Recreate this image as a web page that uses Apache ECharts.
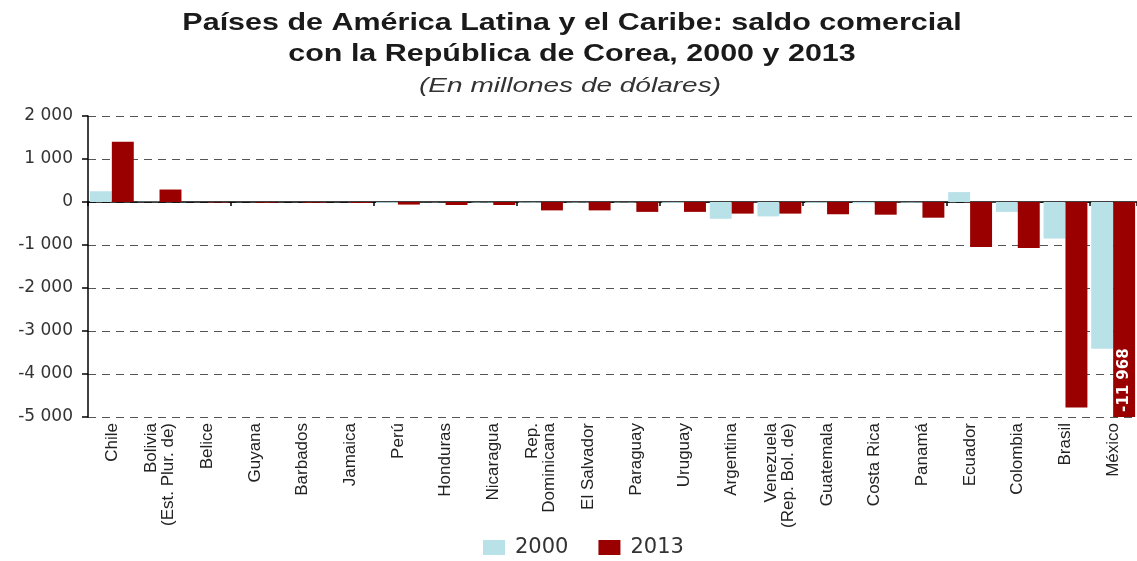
<!DOCTYPE html>
<html>
<head>
<meta charset="utf-8">
<script src="https://cdn.jsdelivr.net/npm/echarts@6/dist/echarts.min.js"></script>
<style>
html,body{margin:0;padding:0;background:#fff;}
#c{width:1137px;height:561px;}
</style>
</head>
<body>
<div id="c"></div>
<script>
var categories = ["Chile","Bolivia\n(Est. Plur. de)","Belice","Guyana","Barbados","Jamaica","Perú","Honduras","Nicaragua","Rep.\nDominicana","El Salvador","Paraguay","Uruguay","Argentina","Venezuela\n(Rep. Bol. de)","Guatemala","Costa Rica","Panamá","Ecuador","Colombia","Brasil","México"];
var v2000 = [250, 5, 0, 0, 0, 0, -20, -5, -10, -15, -10, -10, -20, -390, -335, -20, -30, -15, 230, -230, -850, -3410];
var v2013 = [1400, 290, -10, -15, -15, -20, -60, -70, -70, -195, -195, -230, -230, -270, -270, -285, -295, -365, -1045, -1070, -4780, -11968];
var yTicks = {min: -5000, max: 2000, interval: 1000};
var titleLines = ['Países de América Latina y el Caribe: saldo comercial', 'con la República de Corea, 2000 y 2013'];
var subtitle = '(En millones de dólares)';

function fmtThousands(v){
  var s = Math.abs(v).toString().replace(/\B(?=(\d{3})+(?!\d))/g, ' ');
  return (v < 0 ? '-' : '') + s;
}

var chart = echarts.init(document.getElementById('c'));
var font = 'Liberation Sans, Arial, sans-serif';
var wide = 'DejaVu Sans, sans-serif';
chart.setOption({
  animation: false,
  backgroundColor: '#fff',
  graphic: [
    {type: 'text', x: 572, y: 23, scaleX: 1.27,
     style: {text: titleLines[0], font: 'bold 24px Liberation Sans, Arial, sans-serif', fill: '#1a1a1a', textAlign: 'center', textVerticalAlign: 'middle'}},
    {type: 'text', x: 572, y: 54, scaleX: 1.27,
     style: {text: titleLines[1], font: 'bold 24px Liberation Sans, Arial, sans-serif', fill: '#1a1a1a', textAlign: 'center', textVerticalAlign: 'middle'}},
    {type: 'text', x: 570, y: 86, scaleX: 1.4,
     style: {text: subtitle, font: 'italic 20px Liberation Sans, Arial, sans-serif', fill: '#333', textAlign: 'center', textVerticalAlign: 'middle'}}
  ],
  legend: {
    top: 537, left: 483, padding: 0, itemWidth: 22, itemHeight: 15, itemGap: 30,
    icon: 'rect',
    textStyle: {fontFamily: wide, fontSize: 21, color: '#333', padding: [0, 0, 0, 5]},
    data: ['2000', '2013']
  },
  grid: {left: 88, right: 0, top: 116, bottom: 144},
  xAxis: [
    {type: 'category', data: categories, position: 'bottom',
     axisLine: {show: false, onZero: false}, axisTick: {show: false},
     axisLabel: {rotate: 90, interval: 0, fontFamily: font, fontSize: 17, color: '#222', lineHeight: 17, margin: 6}},
    {type: 'category', data: categories, position: 'bottom',
     axisLine: {show: true, onZero: true, lineStyle: {color: '#000', width: 1.5}},
     axisTick: {show: true, inside: false, length: 4, lineStyle: {color: '#000', width: 1.5}},
     axisLabel: {show: false}}
  ],
  yAxis: {
    type: 'value', min: yTicks.min, max: yTicks.max, interval: yTicks.interval,
    axisLine: {show: true, lineStyle: {color: '#000', width: 1.5}},
    axisTick: {show: true, length: 6, lineStyle: {color: '#000', width: 1.5}},
    axisLabel: {fontFamily: wide, fontSize: 17, color: '#333', margin: 15, formatter: fmtThousands},
    splitLine: {show: true, lineStyle: {color: '#555', type: [8, 6], width: 1}}
  },
  series: [
    {name: '2000', type: 'bar', data: v2000, xAxisIndex: 0, barCategoryGap: '8%', barGap: '0%',
     itemStyle: {color: '#b9e1e8'}},
    {name: '2013', type: 'bar', data: v2013, xAxisIndex: 0, barCategoryGap: '8%', barGap: '0%', clip: true,
     itemStyle: {color: '#9a0000'},
     label: {show: true, position: 'insideBottom', rotate: 90, align: 'left', verticalAlign: 'middle', distance: 5,
       color: '#fff', fontFamily: wide, fontSize: 15, fontWeight: 'bold',
       formatter: function(p){ return p.dataIndex === v2013.length - 1 ? fmtThousands(p.value) : ''; }}}
  ]
});
</script>
</body>
</html>
